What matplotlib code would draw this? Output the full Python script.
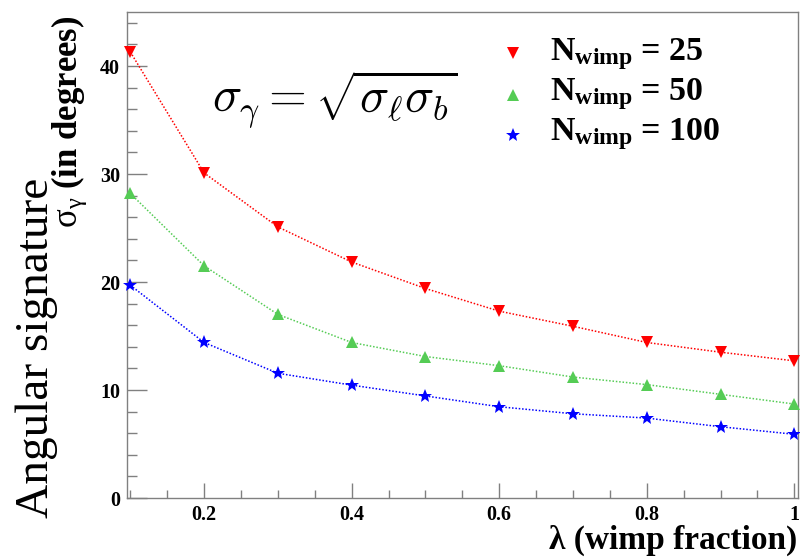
import os
import matplotlib
matplotlib.use("Agg")
import matplotlib.pyplot as plt
from matplotlib.lines import Line2D
from matplotlib.font_manager import FontProperties
from matplotlib.ticker import MultipleLocator, FixedLocator, FixedFormatter

SERIF = 'Liberation Serif'
plt.rcParams['font.family'] = SERIF
plt.rcParams['mathtext.fontset'] = 'custom'
plt.rcParams['mathtext.rm'] = 'Liberation Serif'
plt.rcParams['mathtext.bf'] = 'Liberation Serif:bold'
plt.rcParams['mathtext.it'] = 'Liberation Serif:italic'

BOLD_PATH = '/usr/share/fonts/truetype/liberation/LiberationSerif-Bold.ttf'


def bold_fp(size):
    if os.path.exists(BOLD_PATH):
        return FontProperties(fname=BOLD_PATH, size=size)
    return FontProperties(family=SERIF, weight='bold', size=size)


# data
lam = [0.1, 0.2, 0.3, 0.4, 0.5, 0.6, 0.7, 0.8, 0.9, 1.0]
sig_n25 = [41.3, 30.1, 25.1, 21.85, 19.4, 17.3, 15.9, 14.4, 13.5, 12.7]
sig_n50 = [28.2, 21.5, 17.0, 14.4, 13.1, 12.25, 11.2, 10.5, 9.6, 8.7]
sig_n100 = [19.7, 14.4, 11.55, 10.45, 9.45, 8.45, 7.8, 7.4, 6.6, 5.9]
labels = [r'N$_{\mathdefault{wimp}}$ = 25',
          r'N$_{\mathdefault{wimp}}$ = 50',
          r'N$_{\mathdefault{wimp}}$ = 100']
x_ticks = [0.2, 0.4, 0.6, 0.8, 1.0]
x_tick_labels = ['0.2', '0.4', '0.6', '0.8', '1']
y_ticks = [0, 10, 20, 30, 40]
y_tick_labels = ['0', '10', '20', '30', '40']

W, H = 800, 557
fig = plt.figure(figsize=(8, 5.57), dpi=100)
ax = fig.add_axes([127 / W, 1 - 498 / H, (798 - 127) / W, (498 - 12) / H])

series = [
    (sig_n25, '#ff0000', 'v', 8),
    (sig_n50, '#55cc55', '^', 8),
    (sig_n100, '#0000ff', '*', 10.5),
]
for vals, col, mk, ms in series:
    ax.plot(lam, vals, color=col, linestyle=(0, (1, 1.2)), linewidth=1.1,
            marker=mk, markersize=ms, markeredgewidth=0, zorder=3, clip_on=False)

ax.set_xlim(0.0955, 1.005)
ax.set_ylim(0, 45)

gray = '#808080'
for s in ax.spines.values():
    s.set_color(gray)
    s.set_linewidth(1.0)

ax.xaxis.set_major_locator(FixedLocator(x_ticks))
ax.xaxis.set_major_formatter(FixedFormatter(x_tick_labels))
ax.xaxis.set_minor_locator(MultipleLocator(0.05))
ax.yaxis.set_major_locator(FixedLocator(y_ticks))
ax.yaxis.set_major_formatter(FixedFormatter(y_tick_labels))
ax.yaxis.set_minor_locator(MultipleLocator(2))

ax.tick_params(axis='x', which='major', direction='in', length=10.8, width=1,
               color=gray, pad=5)
ax.tick_params(axis='x', which='minor', direction='in', length=5.8, width=1, color=gray)
ax.tick_params(axis='y', which='major', direction='in', length=14.4, width=1,
               color=gray, pad=5)
ax.tick_params(axis='y', which='minor', direction='in', length=7.2, width=1, color=gray)
for lab in ax.get_xticklabels() + ax.get_yticklabels():
    lab.set_fontproperties(bold_fp(14.5))

# formula
fig.text(212 / W, 1 - 113 / H, r'$\sigma_\gamma = \sqrt{\sigma_\ell \sigma_b}$',
         fontsize=35, math_fontfamily='cm', ha='left', va='baseline')

# legend (manual)
row_text_y = [60, 100, 140]
row_mark_y = [53, 95, 135]
for (vals, col, mk, ms), lab, ty, my in zip(series, labels, row_text_y, row_mark_y):
    fig.add_artist(Line2D([513 / W], [1 - my / H], transform=fig.transFigure,
                          marker=mk, color=col, markersize=ms, markeredgewidth=0,
                          linestyle='none'))
    fig.text(550 / W, 1 - ty / H, lab, fontproperties=bold_fp(24.5),
             ha='left', va='baseline')

# axis titles
fig.text(797 / W, 1 - 549 / H, 'λ (wimp fraction)', fontproperties=bold_fp(24),
         ha='right', va='baseline')
fig.text(48 / W, 1 - 518 / H, 'Angular signature', fontsize=34, rotation=90,
         family=SERIF, rotation_mode='anchor', ha='left', va='baseline')
fig.text(77 / W, 1 - 228 / H, r'$\mathrm{σ}_{\mathrm{γ}}$ (in degrees)',
         fontproperties=bold_fp(25), rotation=90, rotation_mode='anchor',
         ha='left', va='baseline')

fig.savefig('out.png', dpi=100)
